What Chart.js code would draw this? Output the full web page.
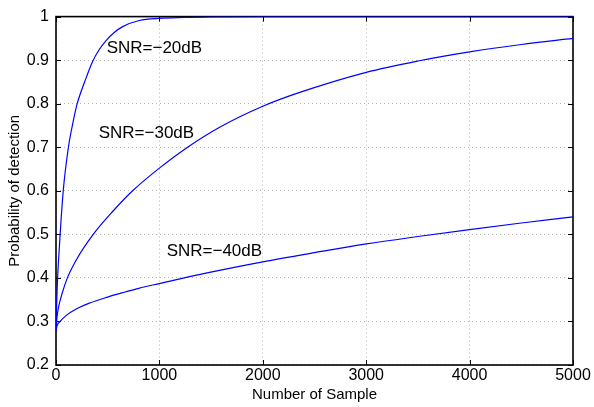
<!DOCTYPE html>
<html>
<head>
<meta charset="utf-8">
<script src="https://cdn.jsdelivr.net/npm/chart.js@4.4.0/dist/chart.umd.min.js"></script>
<style>
  html, body { margin: 0; padding: 0; background: #fff; }
  #wrap { width: 594px; height: 407px; }
</style>
</head>
<body>
<div id="wrap"><canvas id="myChart" width="594" height="407"></canvas></div>
<script>
// values
const samples20 = [0, 4, 12, 22, 40, 70, 120, 160, 205, 280, 354, 420, 484, 560, 645, 806, 1000, 1250, 1500, 2000, 5000];
const pd20 = [0.278, 0.32, 0.38, 0.43, 0.5, 0.6, 0.7, 0.752, 0.8, 0.852, 0.897, 0.925, 0.945, 0.963, 0.977, 0.991, 0.996, 0.998, 0.9995, 1, 1];

const samples30 = [0, 10, 25, 60, 110, 200, 360, 550, 741, 1000, 1273, 1600, 2000, 2321, 3000, 3500, 4000, 4500, 5000];
const pd30 = [0.278, 0.31, 0.333, 0.365, 0.4, 0.443, 0.5, 0.553, 0.6, 0.652, 0.7, 0.748, 0.794, 0.823, 0.872, 0.898, 0.919, 0.936, 0.95];

const samples40 = [0, 10, 40, 100, 200, 322, 500, 645, 800, 1000, 1450, 2000, 2500, 3000, 3500, 4000, 4500, 5000];
const pd40 = [0.278, 0.29, 0.3, 0.314, 0.329, 0.342, 0.356, 0.366, 0.376, 0.387, 0.411, 0.437, 0.458, 0.478, 0.495, 0.511, 0.526, 0.54];

// curve labels: text, x (left edge), y (middle) in data units
const labelTexts = ['SNR=\u221220dB', 'SNR=\u221230dB', 'SNR=\u221240dB'];
const labelX = [490, 413, 1070];
const labelY = [0.927, 0.733, 0.462];

const FONT = '"Liberation Sans", Arial, sans-serif';

function toPoints(xs, ys) {
  return xs.map((x, i) => ({ x: x, y: ys[i] }));
}

function series(label, xs, ys) {
  return {
    label: label,
    data: toPoints(xs, ys),
    borderColor: '#0000ff',
    borderWidth: 1.2,
    pointRadius: 0,
    fill: false,
    cubicInterpolationMode: 'monotone'
  };
}

// black box with inward ticks, like a matlab axes
const boxPlugin = {
  id: 'box',
  beforeDatasetsDraw(chart) {
    const { ctx, chartArea: a, scales } = chart;
    ctx.save();
    ctx.strokeStyle = '#000';
    ctx.lineWidth = 1;
    const tl = 5;
    ctx.beginPath();
    scales.x.ticks.forEach(t => {
      const px = Math.round(scales.x.getPixelForValue(t.value)) + 0.5;
      ctx.moveTo(px, a.bottom); ctx.lineTo(px, a.bottom - tl);
      ctx.moveTo(px, a.top); ctx.lineTo(px, a.top + tl);
    });
    scales.y.ticks.forEach(t => {
      const py = Math.round(scales.y.getPixelForValue(t.value)) + 0.5;
      ctx.moveTo(a.left, py); ctx.lineTo(a.left + tl, py);
      ctx.moveTo(a.right, py); ctx.lineTo(a.right - tl, py);
    });
    ctx.stroke();
    ctx.lineWidth = 1.6;
    ctx.strokeRect(a.left, a.top, a.right - a.left, a.bottom - a.top);
    ctx.restore();
  },
  afterDatasetsDraw(chart) {
    const { ctx, scales } = chart;
    ctx.save();
    ctx.fillStyle = '#000';
    ctx.font = '17px ' + FONT;
    ctx.textAlign = 'left';
    ctx.textBaseline = 'middle';
    labelTexts.forEach((txt, i) => {
      ctx.fillText(txt, scales.x.getPixelForValue(labelX[i]), scales.y.getPixelForValue(labelY[i]));
    });
    ctx.restore();
  }
};

var ctx = document.getElementById('myChart').getContext('2d');

const config = {
  type: 'line',
  data: {
    datasets: [
      series('SNR=-20dB', samples20, pd20),
      series('SNR=-30dB', samples30, pd30),
      series('SNR=-40dB', samples40, pd40)
    ]
  },
  options: {
    responsive: false,
    animation: false,
    events: [],
    layout: { padding: { top: 12, right: 21, left: 0, bottom: 0 } },
    plugins: { legend: { display: false }, tooltip: { enabled: false } },
    scales: {
      x: {
        type: 'linear',
        min: 0,
        max: 5000,
        ticks: {
          stepSize: 1000, color: '#000', padding: 1, maxRotation: 0, font: { family: FONT, size: 16 },
          callback: v => String(v)
        },
        grid: { color: '#b4b4b4', drawTicks: false },
        border: { display: false, dash: [1, 3] },
        title: { display: true, text: 'Number of Sample', color: '#000', font: { family: FONT, size: 15 }, padding: { top: 0, bottom: 3 } },
        afterFit(scale) { scale.height = 42; }
      },
      y: {
        min: 0.2,
        max: 1,
        ticks: {
          stepSize: 0.1, color: '#000', padding: 7, font: { family: FONT, size: 16 },
          callback: v => String(Number(v.toFixed(1)))
        },
        grid: { color: '#b4b4b4', drawTicks: false },
        border: { display: false, dash: [1, 3] },
        title: { display: true, text: 'Probability of detection', color: '#000', font: { family: FONT, size: 15 }, padding: { top: 6, bottom: 0 } },
        afterFit(scale) { scale.width = 56; }
      }
    }
  },
  plugins: [boxPlugin]
};

var myChart = new Chart(ctx, config);
</script>
</body>
</html>
